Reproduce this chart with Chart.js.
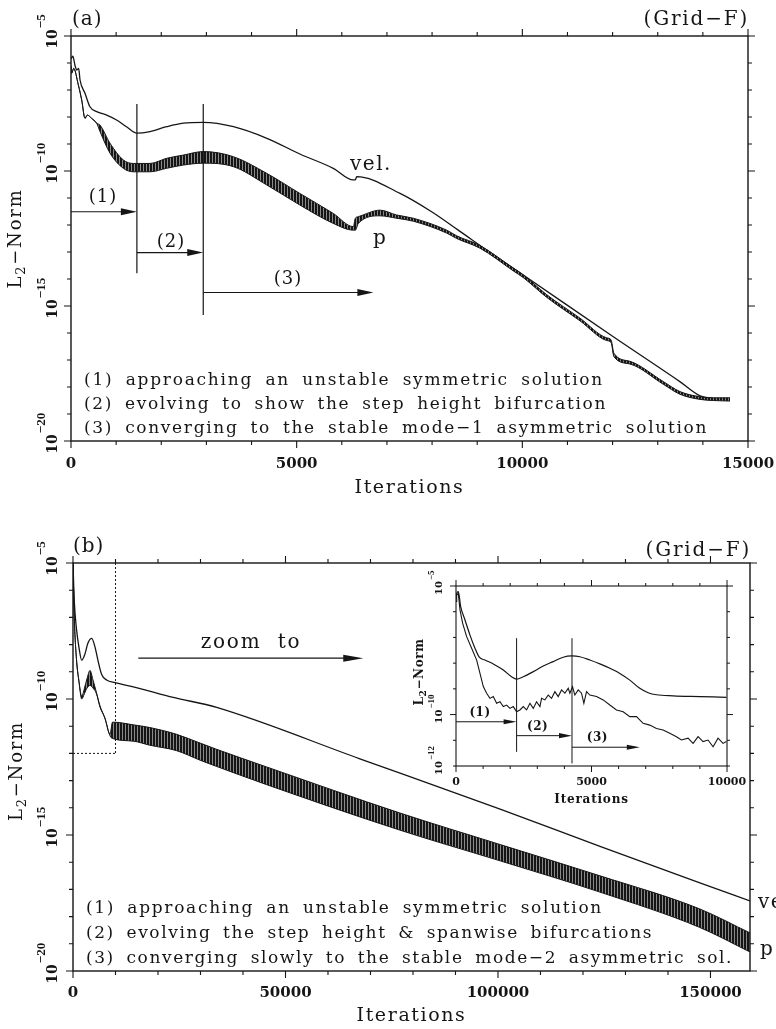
<!DOCTYPE html>
<html>
<head>
<meta charset="utf-8">
<title>L2-Norm convergence history (Grid-F)</title>
<script src="https://cdn.jsdelivr.net/npm/chart.js@4.4.1/dist/chart.umd.min.js"></script>
<style>
  html, body { margin: 0; padding: 0; background: #fff; }
  #page { position: relative; width: 776px; height: 1029px; overflow: hidden; background: #fff; }
  #page canvas { position: absolute; }
</style>
</head>
<body>
<div id="page">
  <canvas id="panelA" width="776" height="500" style="left:0;top:0;width:776px;height:500px"></canvas>
  <canvas id="panelB" width="776" height="529" style="left:0;top:500px;width:776px;height:529px"></canvas>
  <canvas id="panelInset" width="376" height="250" style="left:400px;top:560px;width:376px;height:250px"></canvas>
</div>
<script>
// ---------------- panel (a): Grid-F, first 15000 iterations ----------------
// values are log10 of the L2-norm
const velIterA = [0, 40, 90, 130, 170, 200, 310, 420, 570, 790, 1010, 1230, 1460, 1750, 2120, 2490, 2930, 3600, 4340, 5070, 5810, 6255, 6300, 6330, 7290, 7990, 8580, 9210, 10020, 12016, 13490, 13940, 14230, 14600];
const velExpA  = [-5.85, -5.75, -6.1, -6.26, -6.2, -6.63, -7.12, -7.62, -7.80, -7.93, -8.11, -8.36, -8.60, -8.54, -8.36, -8.23, -8.20, -8.36, -8.79, -9.37, -9.90, -10.33, -10.33, -10.21, -10.83, -11.51, -12.19, -12.93, -13.85, -16.14, -17.80, -18.33, -18.42, -18.48];
// pressure: upper / lower edge of the oscillation band
const pIterA  = [0, 15, 60, 162, 237, 310, 361, 458, 569, 643, 864, 1159, 1380, 1750, 2120, 2490, 2930, 3600, 4340, 5070, 5810, 6255, 6300, 6366, 6846, 7216, 7585, 8324, 8545, 9062, 9800, 10022, 10540, 11278, 11870, 11965, 12030, 12386, 13124, 13493, 13936, 14231, 14601];
const pHiExpA = [-6.1, -6.38, -6.2, -6.81, -7.37, -8.05, -7.93, -8.05, -8.23, -8.30, -8.97, -9.59, -9.72, -9.72, -9.53, -9.41, -9.28, -9.47, -10.09, -10.83, -11.57, -12.06, -11.75, -11.69, -11.45, -11.63, -11.75, -12.19, -12.40, -12.76, -13.6, -13.85, -14.58, -15.45, -16.18, -16.25, -16.75, -17.05, -17.80, -18.17, -18.36, -18.40, -18.40];
const pLoExpA = [-6.1, -6.38, -6.2, -6.81, -7.37, -8.05, -7.93, -8.05, -8.23, -8.54, -9.34, -9.90, -10.03, -10.03, -9.90, -9.78, -9.71, -9.84, -10.52, -11.26, -11.94, -12.19, -12.19, -11.94, -11.66, -11.75, -11.86, -12.30, -12.50, -12.86, -13.70, -13.95, -14.68, -15.55, -16.28, -16.35, -16.88, -17.15, -17.90, -18.27, -18.46, -18.50, -18.52];

// ---------------- panel (b): Grid-F, long run ----------------
const velIterB = [0, 300, 800, 1400, 2050, 2800, 3500, 4400, 5200, 5900, 6750, 7900, 9880, 14200, 23600, 33800, 67500, 100500, 124000, 147500, 159300];
const velExpB  = [-5.0, -6.4, -7.4, -8.1, -8.57, -8.35, -7.95, -7.77, -8.1, -8.6, -9.1, -9.3, -9.4, -9.55, -9.94, -10.31, -12.2, -14.05, -15.42, -16.76, -17.42];
const pIterB  = [0, 300, 800, 1400, 2050, 2700, 3300, 4000, 4700, 5500, 6350, 7500, 8700, 9300, 14200, 18100, 24400, 29900, 33800, 45600, 76900, 100500, 124000, 147500, 159300];
const pHiExpB = [-5.0, -7.0, -8.5, -9.35, -9.9, -9.6, -9.25, -8.95, -9.3, -9.75, -10.25, -10.7, -11.3, -10.85, -10.95, -11.05, -11.3, -11.62, -11.85, -12.5, -14.19, -15.35, -16.5, -17.72, -18.6];
const pLoExpB = [-5.0, -7.0, -8.5, -9.35, -10.0, -9.8, -9.6, -9.5, -9.6, -9.8, -10.3, -10.7, -11.35, -11.45, -11.55, -11.7, -11.9, -12.25, -12.48, -13.15, -14.82, -15.95, -17.1, -18.4, -19.3];

// ---------------- inset: first 10000 iterations of (b) ----------------
const velIterIn = [0, 25, 86, 172, 332, 516, 700, 860, 1069, 1376, 1745, 2052, 2236, 2482, 2851, 3219, 3588, 3956, 4264, 4571, 4939, 5308, 5677, 6045, 6414, 6782, 7090, 7397, 8011, 8994, 9977];
const velExpIn  = [-5.45, -5.29, -5.22, -5.80, -6.32, -6.91, -7.42, -7.77, -7.88, -8.03, -8.27, -8.53, -8.62, -8.53, -8.33, -8.11, -7.94, -7.77, -7.72, -7.75, -7.88, -8.03, -8.20, -8.40, -8.66, -8.98, -9.15, -9.23, -9.27, -9.30, -9.33];
const pIterIn = [0, 25, 86, 147, 246, 393, 577, 762, 885, 1008, 1130, 1253, 1376, 1499, 1622, 1745, 1868, 1990, 2113, 2236, 2359, 2482, 2605, 2728, 2851, 2973, 3096, 3158, 3281, 3404, 3526, 3649, 3772, 3895, 4018, 4141, 4202, 4300, 4386, 4509, 4632, 4718, 4817, 4939, 5185, 5431, 5677, 5922, 6168, 6414, 6660, 6905, 7151, 7397, 7642, 7888, 8134, 8318, 8564, 8748, 8933, 9117, 9301, 9486, 9670, 9854, 9977];
const pExpIn  = [-5.6, -5.35, -5.29, -5.93, -6.45, -6.97, -7.42, -7.88, -8.40, -8.91, -9.17, -9.37, -9.30, -9.56, -9.50, -9.69, -9.63, -9.76, -9.69, -9.89, -9.82, -9.69, -9.82, -9.56, -9.76, -9.50, -9.69, -9.37, -9.43, -9.24, -9.37, -9.11, -9.30, -9.04, -9.17, -8.98, -9.17, -8.92, -9.24, -9.04, -9.17, -9.56, -9.11, -9.24, -9.30, -9.43, -9.63, -9.82, -9.89, -10.08, -10.08, -10.34, -10.41, -10.54, -10.60, -10.73, -10.86, -10.99, -10.92, -11.12, -10.86, -11.05, -10.99, -11.25, -10.92, -11.12, -11.05];

// ---------------- axis ticks ----------------
const xTicksA = [0, 5000, 10000, 15000];
const xTickLabelsA = ['0', '5000', '10000', '15000'];
const xTicksB = [0, 50000, 100000, 150000];
const xTickLabelsB = ['0', '50000', '100000', '150000'];
const xTicksIn = [0, 5000, 10000];
const xTickLabelsIn = ['0', '5000', '10000'];
const yTickExps = [-5, -10, -15, -20];
const yTickLabels = ['\u22125', '\u221210', '\u221215', '\u221220'];
const yTickExpsIn = [-5, -10, -12];
const yTickLabelsIn = ['\u22125', '\u221210', '\u221212'];

// ---------------- phases and notes ----------------
const phaseA = [1460, 2930];
const phaseIn = [2236, 4280];
const zoomBox = { iterMax: 10000, expMin: -12 };
const notesA = [
  '(1) approaching an unstable symmetric solution',
  '(2) evolving to show the step height bifurcation',
  '(3) converging to the stable mode\u22121 asymmetric solution'
];
const notesB = [
  '(1) approaching an unstable symmetric solution',
  '(2) evolving the step height & spanwise bifurcations',
  '(3) converging slowly to the stable mode\u22122 asymmetric sol.'
];

// ================= drawing helpers =================
const INK = '#151515';
const SERIF = '"DejaVu Serif", "Liberation Serif", serif';
const TIMES = '"Liberation Serif", "DejaVu Serif", serif';

function pts(iters, exps) { return iters.map((it, i) => ({ x: it, y: Math.pow(10, exps[i]) })); }

// dense vertical hatching used for the oscillating pressure band
function stripePattern(ctx) {
  const c = document.createElement('canvas');
  c.width = 3; c.height = 4;
  const g = c.getContext('2d');
  g.fillStyle = '#8a8a8a'; g.fillRect(0, 0, 3, 4);
  g.fillStyle = INK; g.fillRect(0, 0, 2, 4);
  return ctx.createPattern(c, 'repeat');
}

function lineDs(data, extra) {
  return Object.assign({
    data, borderColor: INK, borderWidth: 1.3, pointRadius: 0, fill: false,
    cubicInterpolationMode: 'monotone'
  }, extra || {});
}

// text runs drawn along one baseline; optional rotation (reads bottom to top)
function drawRuns(ctx, runs, x, y, opt) {
  opt = opt || {};
  const ls = opt.ls || 0;
  ctx.save();
  ctx.translate(x, y);
  if (opt.rotate) ctx.rotate(-Math.PI / 2);
  ctx.fillStyle = INK; ctx.textAlign = 'left'; ctx.textBaseline = 'alphabetic';
  let w = 0;
  const widths = runs.map(r => {
    ctx.font = r.font; ctx.letterSpacing = '0px';
    const rw = ctx.measureText(r.t).width + ls * r.t.length;
    w += rw; return rw;
  });
  let cx = opt.align === 'center' ? -w / 2 : (opt.align === 'right' ? -w : 0);
  runs.forEach((r, i) => {
    ctx.font = r.font; ctx.letterSpacing = ls + 'px';
    ctx.fillText(r.t, cx, r.dy || 0);
    cx += widths[i];
  });
  ctx.restore();
}

function text(ctx, s, x, y, font, align, ls) {
  drawRuns(ctx, [{ t: s, font }], x, y, { align, ls: ls || 0 });
}

// stretch a line of text to a given width by spacing letters and words
function fitLine(ctx, s, x, y, font, width) {
  ctx.save();
  ctx.font = font; ctx.letterSpacing = '0px'; ctx.wordSpacing = '0px';
  const nat = ctx.measureText(s).width;
  const sp = (s.match(/ /g) || []).length;
  const ls = (width - nat) / (s.length + 3 * sp);
  ctx.letterSpacing = ls + 'px'; ctx.wordSpacing = (3 * ls) + 'px';
  ctx.fillStyle = INK; ctx.textAlign = 'left'; ctx.textBaseline = 'alphabetic';
  ctx.fillText(s, x, y);
  ctx.restore();
}

function powLabel(ctx, baseX, cy, expTxt, baseFont, expFont, raise) {
  ctx.save();
  ctx.translate(baseX, cy);
  ctx.rotate(-Math.PI / 2);
  ctx.fillStyle = INK; ctx.textBaseline = 'alphabetic'; ctx.textAlign = 'left';
  ctx.font = baseFont;
  const w = ctx.measureText('10').width;
  ctx.fillText('10', -w / 2, 0);
  ctx.font = expFont;
  ctx.fillText(expTxt, w / 2 + 1, -raise);
  ctx.restore();
}

function seg(ctx, x0, y0, x1, y1) { ctx.beginPath(); ctx.moveTo(x0, y0); ctx.lineTo(x1, y1); ctx.stroke(); }

function arrow(ctx, x0, x1, y, len, hw) {
  seg(ctx, x0, y, x1 - len + 1, y);
  ctx.beginPath();
  ctx.moveTo(x1 - len, y - hw); ctx.lineTo(x1, y); ctx.lineTo(x1 - len, y + hw); ctx.closePath();
  ctx.fill();
}

function frame(chart, o) {
  const { ctx, chartArea: a, scales: { x, y } } = chart;
  ctx.save();
  ctx.strokeStyle = INK; ctx.lineWidth = o.lw;
  ctx.strokeRect(a.left, a.top, a.right - a.left, a.bottom - a.top);
  ctx.lineWidth = o.tw;
  ctx.beginPath();
  for (let v = 0; v <= o.xMax + 1e-6; v += o.xMinor) {
    const px = x.getPixelForValue(v);
    const L = (Math.round(v) % o.xMajor === 0) ? o.major : o.minor;
    ctx.moveTo(px, a.bottom); ctx.lineTo(px, a.bottom + L);
    ctx.moveTo(px, a.top); ctx.lineTo(px, a.top - L);
  }
  for (let e = o.yMin; e <= o.yMax; e++) {
    const py = y.getPixelForValue(Math.pow(10, e));
    const L = o.yMajor.includes(e) ? o.major : o.minor;
    ctx.moveTo(a.left, py); ctx.lineTo(a.left - L, py);
    ctx.moveTo(a.right, py); ctx.lineTo(a.right + L, py);
  }
  ctx.stroke();
  ctx.restore();
}

function makePanel(id, xMax, yMin, yMax, padding, datasets, decorate) {
  const canvas = document.getElementById(id);
  const ctx = canvas.getContext('2d');
  return new Chart(ctx, {
    type: 'line',
    data: { datasets: datasets(ctx) },
    options: {
      responsive: false, maintainAspectRatio: false, animation: false, devicePixelRatio: 1, events: [],
      layout: { padding },
      scales: {
        x: { type: 'linear', min: 0, max: xMax, display: false },
        y: { type: 'logarithmic', min: yMin, max: yMax, display: false }
      },
      plugins: { legend: { display: false }, tooltip: { enabled: false } }
    },
    plugins: [{ id: 'decor_' + id, afterDatasetsDraw: decorate }]
  });
}

const normTitle = (big, small, dy) => [
  { t: 'L', font: big }, { t: '2', font: small, dy }, { t: '\u2212Norm', font: big }
];

// ================= panel (a) =================
makePanel('panelA', 15000, 1e-20, 1e-5, { left: 71, top: 36, right: 28, bottom: 59 },
  ctx => {
    const pat = stripePattern(ctx);
    return [
      lineDs(pts(pIterA, pHiExpA), { borderWidth: 1 }),
      lineDs(pts(pIterA, pLoExpA), { borderWidth: 1, fill: '-1', backgroundColor: pat }),
      lineDs(pts(velIterA, velExpA))
    ];
  },
  chart => {
    const { ctx, chartArea: a, scales: { x, y } } = chart;
    const X = v => x.getPixelForValue(v);
    const Y = e => y.getPixelForValue(Math.pow(10, e));
    frame(chart, { lw: 1.4, tw: 1.1, xMax: 15000, xMinor: 1000, xMajor: 5000, yMin: -20, yMax: -5, yMajor: [-5, -10, -15, -20], minor: 4, major: 7 });

    xTicksA.forEach((v, i) => text(ctx, xTickLabelsA[i], X(v), 468, 'bold 15px ' + SERIF, 'center'));
    yTickExps.forEach((e, i) => powLabel(ctx, 57, Y(e) + 3, yTickLabels[i], 'bold 14px ' + SERIF, 'bold 13px ' + TIMES, 12));
    drawRuns(ctx, normTitle('18px ' + SERIF, '13px ' + SERIF, 4), 21, (a.top + a.bottom) / 2, { rotate: true, align: 'center', ls: 1.8 });
    drawRuns(ctx, [{ t: 'Iterations', font: '19px ' + SERIF }], (a.left + a.right) / 2, 493, { align: 'center', ls: 1.6 });
    text(ctx, '(a)', 72, 25, '20px ' + SERIF, 'left', 1);
    drawRuns(ctx, [{ t: '(Grid\u2212F)', font: '20px ' + SERIF }], 749, 25, { align: 'right', ls: 1.8 });

    // phase markers
    ctx.save();
    ctx.strokeStyle = INK; ctx.fillStyle = INK; ctx.lineWidth = 1.2;
    seg(ctx, X(phaseA[0]), Y(-7.52), X(phaseA[0]), Y(-13.79));
    seg(ctx, X(phaseA[1]), Y(-7.52), X(phaseA[1]), Y(-15.33));
    arrow(ctx, X(0), X(phaseA[0]), Y(-11.51), 16, 3.5);
    arrow(ctx, X(phaseA[0]), X(phaseA[1]), Y(-13.02), 16, 3.5);
    arrow(ctx, X(phaseA[1]), X(6700), Y(-14.5), 16, 3.5);
    ctx.restore();
    text(ctx, '(1)', X(709), Y(-11.15), '18px ' + SERIF, 'center', 1);
    text(ctx, '(2)', X(2216), Y(-12.81), '18px ' + SERIF, 'center', 1);
    text(ctx, '(3)', X(4808), Y(-14.19), '18px ' + SERIF, 'center', 1);
    text(ctx, 'vel.', X(6182), Y(-9.96), '20px ' + SERIF, 'left', 1.5);
    text(ctx, 'p', X(6691), Y(-12.70), '20px ' + SERIF, 'left', 0);

    const noteW = [520, 523, 624];
    const noteY = [385, 409, 433];
    notesA.forEach((s, i) => fitLine(ctx, s, 84, noteY[i], '17px ' + SERIF, noteW[i]));
  });

// ================= panel (b) =================
makePanel('panelB', 159300, 1e-20, 1e-5, { left: 73, top: 63, right: 26, bottom: 58 },
  ctx => {
    const pat = stripePattern(ctx);
    return [
      lineDs(pts(pIterB, pHiExpB), { borderWidth: 1 }),
      lineDs(pts(pIterB, pLoExpB), { borderWidth: 1, fill: '-1', backgroundColor: pat }),
      lineDs(pts(velIterB, velExpB))
    ];
  },
  chart => {
    const { ctx, chartArea: a, scales: { x, y } } = chart;
    const X = v => x.getPixelForValue(v);
    const Y = e => y.getPixelForValue(Math.pow(10, e));
    frame(chart, { lw: 1.4, tw: 1.1, xMax: 159300, xMinor: 10000, xMajor: 50000, yMin: -20, yMax: -5, yMajor: [-5, -10, -15, -20], minor: 4, major: 7 });

    xTicksB.forEach((v, i) => text(ctx, xTickLabelsB[i], X(v), 497, 'bold 15px ' + SERIF, 'center'));
    yTickExps.forEach((e, i) => powLabel(ctx, 57, Y(e) + 3, yTickLabels[i], 'bold 14px ' + SERIF, 'bold 13px ' + TIMES, 12));
    drawRuns(ctx, normTitle('18px ' + SERIF, '13px ' + SERIF, 4), 22, (a.top + a.bottom) / 2 + 4, { rotate: true, align: 'center', ls: 1.8 });
    drawRuns(ctx, [{ t: 'Iterations', font: '19px ' + SERIF }], (a.left + a.right) / 2, 521, { align: 'center', ls: 1.6 });
    text(ctx, '(b)', 73, 52, '20px ' + SERIF, 'left', 1);
    drawRuns(ctx, [{ t: '(Grid\u2212F)', font: '20px ' + SERIF }], 751, 56, { align: 'right', ls: 1.8 });

    // dotted box around the window shown in the inset
    ctx.save();
    ctx.strokeStyle = INK; ctx.fillStyle = INK; ctx.lineWidth = 1;
    ctx.setLineDash([2, 2]);
    seg(ctx, X(zoomBox.iterMax), a.top, X(zoomBox.iterMax), Y(zoomBox.expMin));
    seg(ctx, X(0), Y(zoomBox.expMin), X(zoomBox.iterMax), Y(zoomBox.expMin));
    ctx.setLineDash([]);
    ctx.lineWidth = 1.3;
    arrow(ctx, X(15370), X(68300), Y(-8.5), 20, 3.5);
    ctx.restore();
    text(ctx, 'zoom  to', X(41900), Y(-8.13), '20px ' + SERIF, 'center', 1.8);

    text(ctx, 'vel.', a.right + 8, Y(-17.68), '20px ' + SERIF, 'left', 1.5);
    text(ctx, 'p', a.right + 10, Y(-19.41), '20px ' + SERIF, 'left', 0);

    const noteW = [517, 567, 647];
    const noteY = [413, 438, 463];
    notesB.forEach((s, i) => fitLine(ctx, s, 86, noteY[i], '17px ' + SERIF, noteW[i]));
  });

// ================= inset =================
makePanel('panelInset', 10000, 1e-12, 1e-5, { left: 56, top: 26, right: 49, bottom: 44 },
  ctx => [
    lineDs(pts(pIterIn, pExpIn), { borderWidth: 1.1, cubicInterpolationMode: 'default', tension: 0 }),
    lineDs(pts(velIterIn, velExpIn), { borderWidth: 1.2 })
  ],
  chart => {
    const { ctx, chartArea: a, scales: { x, y } } = chart;
    const X = v => x.getPixelForValue(v);
    const Y = e => y.getPixelForValue(Math.pow(10, e));
    frame(chart, { lw: 1.1, tw: 1, xMax: 10000, xMinor: 1000, xMajor: 5000, yMin: -12, yMax: -5, yMajor: [-5, -10], minor: 3, major: 6 });

    xTicksIn.forEach((v, i) => text(ctx, xTickLabelsIn[i], X(v), 225, 'bold 11px ' + SERIF, 'center'));
    yTickExpsIn.forEach((e, i) => powLabel(ctx, 42, Y(e) + 2, yTickLabelsIn[i], 'bold 10px ' + SERIF, 'bold 9px ' + TIMES, 8));
    drawRuns(ctx, normTitle('bold 12px ' + SERIF, 'bold 9px ' + SERIF, 3), 23, (a.top + a.bottom) / 2 - 4, { rotate: true, align: 'center', ls: 0.6 });
    drawRuns(ctx, [{ t: 'Iterations', font: 'bold 12px ' + SERIF }], (a.left + a.right) / 2, 243, { align: 'center', ls: 0.8 });

    ctx.save();
    ctx.strokeStyle = INK; ctx.fillStyle = INK; ctx.lineWidth = 1;
    seg(ctx, X(phaseIn[0]), Y(-7.03), X(phaseIn[0]), Y(-11.45));
    seg(ctx, X(phaseIn[1]), Y(-7.03), X(phaseIn[1]), Y(-11.9));
    arrow(ctx, X(0), X(phaseIn[0]), Y(-10.28), 13, 2.6);
    arrow(ctx, X(phaseIn[0]), X(phaseIn[1]), Y(-10.82), 13, 2.6);
    arrow(ctx, X(phaseIn[1]), X(6782), Y(-11.27), 13, 2.6);
    ctx.restore();
    text(ctx, '(1)', X(885), Y(-10.06), 'bold 12px ' + SERIF, 'center', 0.5);
    text(ctx, '(2)', X(3012), Y(-10.6), 'bold 12px ' + SERIF, 'center', 0.5);
    text(ctx, '(3)', X(5215), Y(-11.03), 'bold 12px ' + SERIF, 'center', 0.5);
  });
</script>
</body>
</html>
